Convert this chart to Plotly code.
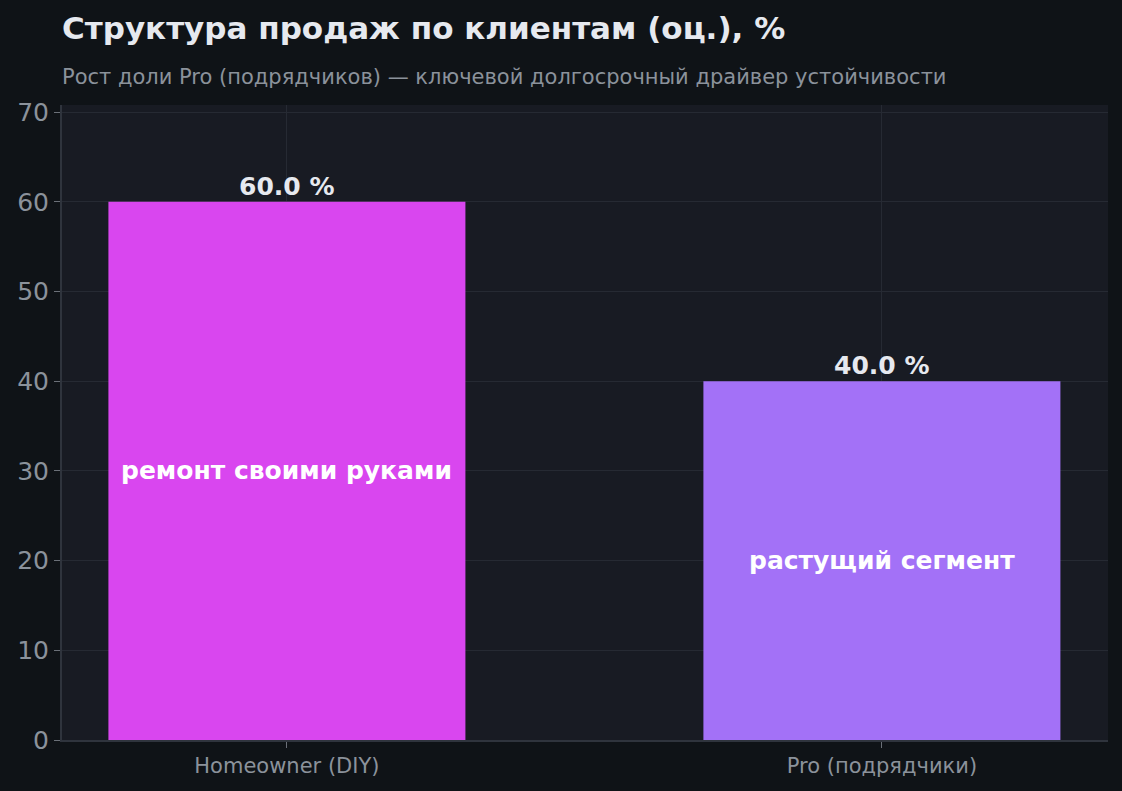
import plotly.graph_objects as go

categories = ["Homeowner (DIY)", "Pro (подрядчики)"]
shares = [60.0, 40.0]
notes = ["ремонт своими руками", "растущий сегмент"]
colors = ["#d946ef", "#a371f7"]

title = "Структура продаж по клиентам (оц.), %"
subtitle = "Рост доли Pro (подрядчиков) — ключевой долгосрочный драйвер устойчивости"

font = "DejaVu Sans"
grid = "#262a33"
muted = "#8b929b"

fig = go.Figure()
fig.add_trace(go.Bar(
    x=categories, y=shares, width=0.6,
    marker=dict(color=colors, line=dict(width=0)),
    hoverinfo="skip",
))

for cat, val, note in zip(categories, shares, notes):
    fig.add_annotation(x=cat, y=val, text=f"<b>{val:.1f} %</b>", showarrow=False,
                       yanchor="bottom", yshift=-1,
                       font=dict(family=font, size=25, color="#e6e9ef"))
    fig.add_annotation(x=cat, y=val / 2, text=f"<b>{note}</b>", showarrow=False,
                       font=dict(family=font, size=25, color="#ffffff"))

fig.add_annotation(xref="paper", yref="paper", x=0, y=1, xanchor="left", yanchor="bottom",
                   xshift=-2, yshift=14, text=subtitle, showarrow=False,
                   font=dict(family=font, size=21, color=muted))

fig.update_layout(
    width=1122, height=791,
    paper_bgcolor="#0f1317", plot_bgcolor="#181b23",
    margin=dict(l=62, r=14, t=105, b=51),
    showlegend=False,
    title=dict(text=f"<b>{title}</b>", x=62 / 1122, xanchor="left", xref="container",
               y=1 - 28 / 791, yanchor="middle", yref="container",
               font=dict(family=font, size=31, color="#e6e9ef")),
    font=dict(family=font, color=muted),
)
fig.update_xaxes(range=[-0.378, 1.38], showgrid=True, gridcolor=grid,
                 showline=True, linecolor="#2f343d", linewidth=2,
                 ticks="outside", ticklen=6, tickcolor="#6b7078",
                 tickfont=dict(family=font, size=21, color=muted))
fig.update_yaxes(range=[0, 70.8], dtick=10, showgrid=True, gridcolor=grid,
                 showline=True, linecolor="#2f343d", linewidth=2, zeroline=False,
                 ticks="outside", ticklen=6, tickcolor="#6b7078",
                 tickfont=dict(family=font, size=25, color=muted))

fig.write_html("out.html", config={"displayModeBar": False},
               post_script="document.body.style.margin='0';")
